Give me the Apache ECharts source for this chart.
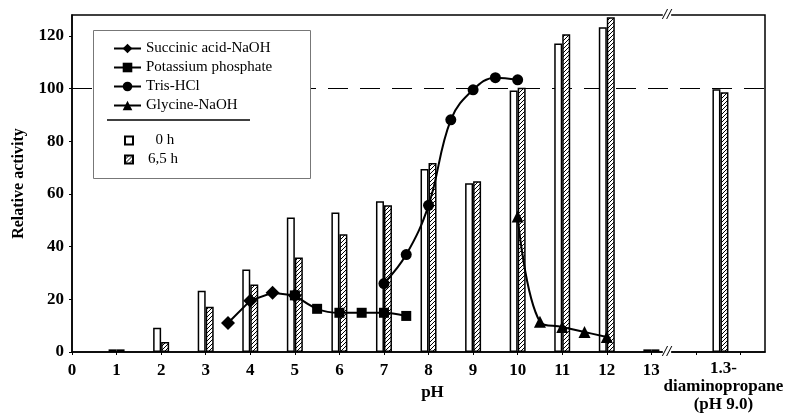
<!DOCTYPE html>
<html>
<head>
<meta charset="utf-8">
<script src="https://cdn.jsdelivr.net/npm/echarts@6/dist/echarts.min.js"></script>
<style>
  html, body { margin: 0; padding: 0; background: #fff; }
  #chart { width: 786px; height: 415px; }
</style>
</head>
<body>
<div id="chart"></div>
<script>
  // pH positions of the bar pairs (14.55 = 1,3-diaminopropane, pH 9.0)
  var barPh = [1, 2, 3, 4, 5, 6, 7, 8, 9, 10, 11, 12, 13, 14.55];
  var bar0h = [1, 9.2, 23.3, 31.3, 51.1, 53, 57.3, 69.5, 64.1, 99.3, 117.2, 123.3, 1, 99.8];
  var bar65h = [1, 3.8, 17.2, 25.6, 35.9, 44.7, 55.7, 71.8, 64.9, 100.4, 120.7, 127.1, 1, 98.7];

  var succinicPh = [3.5, 4, 4.5, 5];
  var succinicVal = [11, 19.5, 22.5, 21.5];
  var phosphatePh = [5, 5.5, 6, 6.5, 7, 7.5];
  var phosphateVal = [21.5, 16.4, 14.9, 14.9, 14.9, 13.7];
  var trisPh = [7, 7.5, 8, 8.5, 9, 9.5, 10];
  var trisVal = [26, 37, 55.7, 88.2, 99.6, 104.2, 103.4];
  var glycinePh = [10, 10.5, 11, 11.5, 12];
  var glycineVal = [51.5, 11.5, 9.5, 7.6, 5.7];

  var xTickLabels = ['0', '1', '2', '3', '4', '5', '6', '7', '8', '9', '10', '11', '12', '13'];
  var extraLabel = '1.3-\ndiaminopropane\n(pH 9.0)';
  var breakAt = 13.35;

  var FONT = 'Liberation Serif';

  function pairs(xs, ys) {
    return xs.map(function (x, i) { return [x, ys[i]]; });
  }

  // diagonal hatching
  function makeHatch() {
    var c = document.createElement('canvas');
    c.width = 4; c.height = 4;
    var g = c.getContext('2d');
    g.fillStyle = '#fff';
    g.fillRect(0, 0, 4, 4);
    g.strokeStyle = '#000';
    g.lineWidth = 1;
    g.beginPath();
    g.moveTo(-1, 5); g.lineTo(5, -1);
    g.moveTo(-1, 1); g.lineTo(1, -1);
    g.moveTo(3, 5); g.lineTo(5, 3);
    g.stroke();
    return c;
  }

  var chart = echarts.init(document.getElementById('chart'));

  function lineSeries(name, data, symbol, size, smooth) {
    return {
      name: name,
      type: 'line',
      data: data,
      symbol: symbol,
      symbolSize: size,
      smooth: smooth,
      z: 5,
      lineStyle: { color: '#000', width: 2 },
      itemStyle: { color: '#000' }
    };
  }

  chart.setOption({
    animation: false,
    textStyle: { fontFamily: FONT },
    grid: {
      left: 72, right: 21, top: 15, bottom: 63,
      show: true, borderColor: '#000', borderWidth: 1.5
    },
    legend: [{
      orient: 'vertical',
      left: 108, top: 36,
      itemWidth: 27, itemHeight: 12, itemGap: 4,
      textStyle: { fontFamily: FONT, fontSize: 15, color: '#000' },
      data: ['Succinic acid-NaOH', 'Potassium phosphate', 'Tris-HCl', 'Glycine-NaOH']
    }, {
      orient: 'vertical',
      left: 119, top: 128,
      itemWidth: 8, itemHeight: 8, itemGap: 4,
      icon: 'rect',
      textStyle: { fontFamily: FONT, fontSize: 15, color: '#000', padding: [0, 0, 0, 10] },
      formatter: function (n) { return n === '0 h' ? '  0 h' : n; },
      data: ['0 h', '6,5 h']
    }],
    xAxis: {
      type: 'value',
      min: 0, max: 15.55, interval: 1,
      splitLine: { show: false },
      axisLine: { lineStyle: { color: '#000', width: 1.5 } },
      axisTick: { show: true, length: 3, lineStyle: { color: '#000' } },
      axisLabel: {
        margin: 10,
        fontFamily: FONT, fontSize: 17, fontWeight: 'bold', color: '#000',
        showMaxLabel: false,
        formatter: function (v) { return xTickLabels[v] !== undefined ? xTickLabels[v] : ''; }
      },
      name: 'pH',
      nameLocation: 'middle',
      nameGap: 32,
      nameTextStyle: { fontFamily: FONT, fontSize: 17, fontWeight: 'bold', color: '#000', padding: [0, 0, 0, 28] }
    },
    yAxis: {
      type: 'value',
      min: 0, max: 128, interval: 20,
      splitLine: { show: false },
      axisLine: { lineStyle: { color: '#000', width: 1.5 } },
      axisTick: { show: true, length: 3, lineStyle: { color: '#000' } },
      axisLabel: {
        margin: 8,
        fontFamily: FONT, fontSize: 17, fontWeight: 'bold', color: '#000',
        showMaxLabel: false
      },
      name: 'Relative activity',
      nameLocation: 'middle',
      nameGap: 45,
      nameTextStyle: { fontFamily: FONT, fontSize: 16, fontWeight: 'bold', color: '#000' }
    },
    series: [
      {
        name: 'ref',
        type: 'line',
        data: [],
        z: 1,
        markLine: {
          z: 1,
          silent: true,
          symbol: 'none',
          label: { show: false },
          lineStyle: { color: '#000', type: [20, 12], width: 1.2 },
          data: [{ yAxis: 100 }]
        }
      },
      {
        name: '0 h',
        type: 'bar',
        data: pairs(barPh, bar0h),
        barWidth: 8,
        barGap: '0%',
        z: 2,
        itemStyle: { color: '#fff', borderColor: '#000', borderWidth: 1.5 }
      },
      {
        name: '6,5 h',
        type: 'bar',
        data: pairs(barPh, bar65h),
        barWidth: 8,
        barGap: '0%',
        z: 2,
        itemStyle: {
          color: { image: makeHatch(), repeat: 'repeat' },
          borderColor: '#000', borderWidth: 1.5
        }
      },
      lineSeries('Succinic acid-NaOH', pairs(succinicPh, succinicVal), 'diamond', 14, false),
      lineSeries('Potassium phosphate', pairs(phosphatePh, phosphateVal), 'rect', 10, 0.3),
      lineSeries('Tris-HCl', pairs(trisPh, trisVal), 'circle', 11, 0.4),
      lineSeries('Glycine-NaOH', pairs(glycinePh, glycineVal), 'triangle', 12, 0.4)
    ]
  });

  // pieces placed from the axes' own scale
  var labelPos = chart.convertToPixel({ gridIndex: 0 }, [barPh[barPh.length - 1], 0]);
  var topBreak = chart.convertToPixel({ gridIndex: 0 }, [breakAt, 128]);
  var botBreak = chart.convertToPixel({ gridIndex: 0 }, [breakAt, 0]);

  chart.setOption({
    graphic: [
      {
        type: 'rect',
        shape: { x: 93.5, y: 30.5, width: 217, height: 148 },
        style: { fill: '#fff', stroke: '#777', lineWidth: 1 },
        z: 3
      },
      {
        type: 'line',
        shape: { x1: 107, y1: 120, x2: 250, y2: 120 },
        style: { stroke: '#000', lineWidth: 1.5 },
        z: 10
      },
      {
        type: 'text',
        x: labelPos[0] + 3, y: labelPos[1] + 8,
        style: {
          text: extraLabel, fill: '#000', align: 'center', verticalAlign: 'top',
          font: 'bold 17px "Liberation Serif"', lineHeight: 18
        },
        z: 10
      },
      {
        type: 'text',
        x: topBreak[0], y: topBreak[1],
        style: {
          text: '//', fill: '#000', backgroundColor: '#fff', align: 'center', verticalAlign: 'middle',
          font: 'italic bold 15px "Liberation Serif"'
        },
        z: 10
      },
      {
        type: 'text',
        x: botBreak[0], y: botBreak[1],
        style: {
          text: '//', fill: '#000', backgroundColor: '#fff', align: 'center', verticalAlign: 'middle',
          font: 'italic bold 15px "Liberation Serif"'
        },
        z: 10
      }
    ]
  });
</script>
</body>
</html>
